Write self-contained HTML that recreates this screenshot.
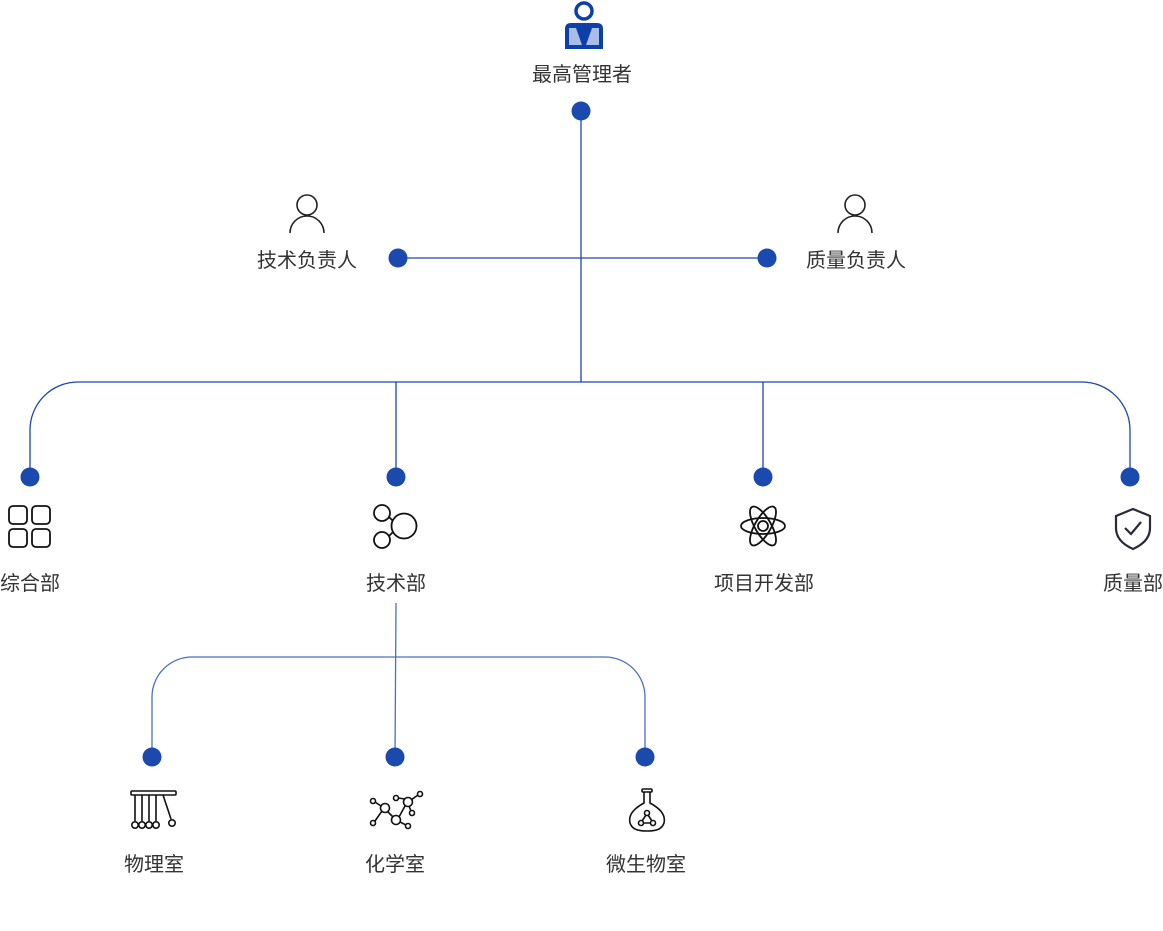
<!DOCTYPE html>
<html><head><meta charset="utf-8"><style>
html,body{margin:0;padding:0;background:#fff;}
svg{display:block}
text{font-family:"Liberation Sans","Noto Sans CJK SC",sans-serif;font-size:20px;fill:#333;text-anchor:middle;}
</style></head><body>
<svg width="1163" height="931" viewBox="0 0 1163 931">
<g stroke="#1d47b0" stroke-width="1.3" fill="none">
<line x1="581" y1="111" x2="581" y2="382"/>
<line x1="398" y1="258" x2="767" y2="258"/>
<path d="M30 477 V430 A48 48 0 0 1 78 382 H1082 A48 48 0 0 1 1130 430 V477"/>
<line x1="396" y1="382" x2="396" y2="477"/>
<line x1="763" y1="382" x2="763" y2="477"/>
<g stroke="#4a6fc4"><line x1="396" y1="603" x2="395" y2="757"/>
<path d="M152 757 V697 A40 40 0 0 1 192 657 H605 A40 40 0 0 1 645 697 V757"/></g>
</g>
<g fill="#1a4aae">
<circle cx="581" cy="111" r="9.5"/><circle cx="398" cy="258" r="9.5"/><circle cx="767" cy="258" r="9.5"/>
<circle cx="30" cy="477" r="9.5"/><circle cx="396" cy="477" r="9.5"/><circle cx="763" cy="477" r="9.5"/><circle cx="1130" cy="477" r="9.5"/>
<circle cx="152" cy="757" r="9.5"/><circle cx="395" cy="757" r="9.5"/><circle cx="645" cy="757" r="9.5"/>
</g>
<!-- top icon -->
<circle cx="584" cy="11" r="8" fill="none" stroke="#0d3fa8" stroke-width="3.5"/>
<path d="M565 49 V29 Q565 23 571 23 H597 Q603 23 603 29 V49 Z" fill="#0d3fa8"/>
<path d="M569 28 H576 L582 45 H569 Z" fill="#a9bde6"/>
<path d="M599 28 H592 L586 45 H599 Z" fill="#a9bde6"/>
<path d="M580 26 L584 46 L588 26 Z" fill="#0d3fa8"/>
<text x="582" y="81">最高管理者</text>
<!-- persons -->
<g fill="none" stroke="#222" stroke-width="1.6">
<circle cx="307" cy="205" r="10"/><path d="M290 233 A17 17 0 0 1 324 233"/>
<circle cx="855" cy="205" r="10"/><path d="M838 233 A17 17 0 0 1 872 233"/>
</g>
<text x="307" y="267">技术负责人</text>
<text x="856" y="267">质量负责人</text>
<!-- dept icons -->
<g fill="none" stroke="#111" stroke-width="1.8">
<rect x="9" y="506" width="18" height="18" rx="4"/><rect x="32" y="506" width="18" height="18" rx="4"/>
<rect x="9" y="529" width="18" height="18" rx="4"/><rect x="32" y="529" width="18" height="18" rx="4"/>
<circle cx="382" cy="513" r="8"/><circle cx="382" cy="540" r="8"/><circle cx="404" cy="526" r="12.5"/>
<line x1="389" y1="517" x2="393" y2="521"/><line x1="389" y1="536" x2="393" y2="532"/>
<ellipse cx="763" cy="526" rx="22" ry="8"/>
<ellipse cx="763" cy="526" rx="22" ry="8" transform="rotate(60 763 526)"/>
<ellipse cx="763" cy="526" rx="22" ry="8" transform="rotate(-60 763 526)"/>
<circle cx="763" cy="526" r="5"/>
<path d="M1133 509 L1150 516 V528 C1150 539 1142 545 1133 549 C1124 545 1116 539 1116 528 V516 Z" stroke="#2a2a3a" stroke-width="2.2"/>
<path d="M1125 528 L1131 534 L1141 522" stroke="#2a2a3a" stroke-width="2.2"/>
</g>
<text x="30" y="590">综合部</text>
<text x="396" y="590">技术部</text>
<text x="764" y="590">项目开发部</text>
<text x="1133" y="590">质量部</text>
<!-- lab icons -->
<g fill="none" stroke="#111" stroke-width="1.6">
<rect x="131" y="791" width="45" height="4" rx="1"/>
<line x1="135" y1="795" x2="135" y2="821"/><line x1="142" y1="795" x2="142" y2="821"/><line x1="149" y1="795" x2="149" y2="821"/><line x1="156" y1="795" x2="156" y2="821"/><line x1="163" y1="795" x2="171" y2="819"/>
<circle cx="135" cy="825" r="3.2"/><circle cx="142" cy="825" r="3.2"/><circle cx="149" cy="825" r="3.2"/><circle cx="156" cy="825" r="3.2"/><circle cx="172" cy="823" r="3.2"/>
<circle cx="385" cy="808" r="4.5"/><circle cx="396" cy="820" r="4.5"/><circle cx="408" cy="802" r="4.5"/>
<circle cx="373" cy="801" r="2.5"/><circle cx="373" cy="823" r="2.5"/><circle cx="408" cy="826" r="2.5"/><circle cx="396" cy="798" r="2.5"/><circle cx="420" cy="794" r="2.5"/><circle cx="412" cy="813" r="2.5"/>
<path d="M375 802 L381 806 M382 811 L375 821 M388 812 L393 817 M399 817 L405 806 M400 822 L406 825 M405 799 L398 798 M411 800 L418 795 M409 806 L411 811"/>
<rect x="642" y="789" width="10" height="3" rx="1"/>
<path d="M644 792 V803 C635 808 628 814 630 823 C632 829 637 831 647 831 C657 831 662 829 664 823 C666 814 659 808 650 803 V792"/>
<circle cx="647" cy="813" r="2.5"/><circle cx="641" cy="823" r="2.5"/><circle cx="653" cy="823" r="2.5"/>
<path d="M646 815 L642 821 M648 815 L652 821 M643 823 H651"/>
</g>
<text x="154" y="871">物理室</text>
<text x="395" y="871">化学室</text>
<text x="646" y="871">微生物室</text>
</svg>
</body></html>
